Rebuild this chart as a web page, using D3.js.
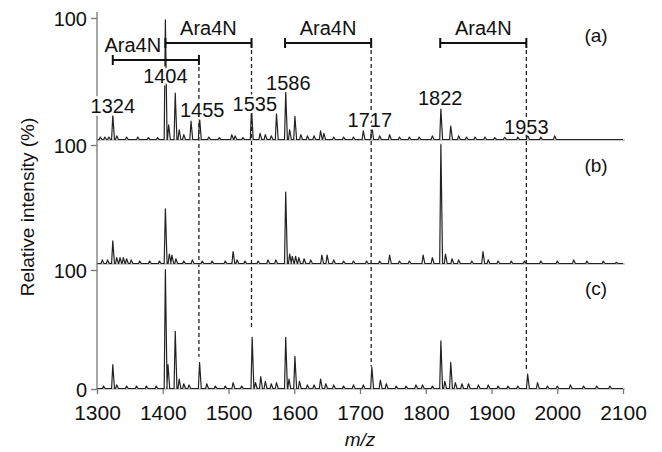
<!DOCTYPE html>
<html>
<head>
<meta charset="utf-8">
<script src="https://cdn.jsdelivr.net/npm/d3@7"></script>
<style>
  body { margin: 0; background: #fff; }
  svg text { font-family: "Liberation Sans", Arial, sans-serif; fill: #111; }
</style>
</head>
<body>
<div id="chart"></div>
<script>
// peak lists: [m/z, relative intensity %]
const peaksA = [
  [1305, 2], [1312, 2], [1318, 2], [1324, 20], [1330, 3], [1345, 2], [1362, 2], [1378, 1.5], [1392, 1.5],
  [1404, 98], [1409, 12], [1419, 38], [1425, 8], [1432, 4], [1443, 15], [1456, 18], [1470, 2], [1486, 1.5],
  [1505, 4], [1510, 3], [1522, 1.5], [1535, 25], [1548, 5], [1556, 4], [1565, 3], [1573, 21], [1587, 39],
  [1593, 8], [1601, 19], [1610, 4], [1620, 3], [1630, 3], [1640, 7], [1645, 5], [1660, 2], [1675, 2],
  [1690, 2], [1705, 7], [1718, 12], [1730, 3], [1745, 4], [1760, 2], [1775, 2], [1790, 2], [1810, 3],
  [1823, 25], [1838, 11], [1850, 3], [1862, 2], [1875, 2], [1890, 2], [1905, 1.5], [1920, 2], [1940, 2],
  [1955, 4], [1975, 2], [1996, 3]
];
const peaksB = [
  [1308, 3], [1316, 3], [1324, 19], [1330, 5], [1335, 5], [1340, 5], [1345, 4], [1352, 3], [1365, 2],
  [1380, 2], [1395, 2], [1404, 46], [1410, 8], [1414, 7], [1420, 4], [1432, 2], [1445, 3], [1460, 2],
  [1475, 2], [1495, 2], [1507, 10], [1513, 3], [1525, 2], [1545, 2], [1560, 3], [1572, 3], [1587, 60],
  [1593, 8], [1597, 6], [1602, 6], [1607, 5], [1615, 4], [1625, 3], [1642, 7], [1650, 7], [1660, 3],
  [1675, 2], [1690, 2], [1710, 2], [1730, 2], [1745, 7], [1760, 2], [1775, 2], [1796, 7], [1810, 5],
  [1823, 100], [1830, 8], [1840, 4], [1850, 3], [1870, 2], [1887, 10], [1895, 3], [1910, 2], [1930, 2],
  [1950, 2], [1975, 2], [2000, 2], [2025, 3], [2045, 2], [2070, 2], [2090, 1]
];
const peaksC = [
  [1310, 2], [1324, 20], [1330, 3], [1345, 2], [1360, 2], [1375, 2], [1390, 2], [1404, 100], [1408, 20],
  [1419, 48], [1425, 8], [1432, 4], [1440, 3], [1456, 22], [1467, 4], [1480, 2], [1495, 2], [1507, 5],
  [1520, 2], [1536, 43], [1541, 5], [1549, 10], [1556, 6], [1565, 4], [1573, 5], [1587, 43], [1592, 8],
  [1601, 27], [1608, 6], [1620, 3], [1630, 3], [1640, 8], [1648, 4], [1660, 3], [1675, 2], [1690, 3],
  [1705, 3], [1718, 18], [1731, 7], [1740, 4], [1755, 2], [1770, 2], [1785, 3], [1795, 3], [1810, 2],
  [1823, 40], [1829, 6], [1838, 22], [1845, 5], [1855, 4], [1865, 4], [1880, 3], [1895, 3], [1910, 2],
  [1925, 2], [1940, 2], [1955, 12], [1970, 5], [1985, 2], [2000, 2], [2020, 3], [2040, 2], [2060, 2], [2080, 2]
];
const panelNames = ['(a)', '(b)', '(c)'];
const xTicks = [1300, 1400, 1500, 1600, 1700, 1800, 1900, 2000, 2100];
// labelled peaks in (a): [m/z label, label x m/z, label height %]
const peakLabels = [
  [1324, 1324, 22], [1404, 1404, 47], [1455, 1460, 19], [1535, 1540, 24],
  [1586, 1591, 41], [1717, 1715, 11], [1822, 1822, 29], [1953, 1953, 5]
];
// Ara4N losses: [from, to, row]
const ara4n = [[1324, 1455, 1], [1404, 1535, 0], [1586, 1717, 0], [1822, 1953, 0]];
// height (% of panel c) where each dashed guide stops
const guideEnds = [[1455, 27], [1535, 51], [1717, 19], [1953, 16]];

const width = 662, height = 452;
const svg = d3.select('#chart').append('svg')
  .attr('width', width).attr('height', height);

const x = d3.scaleLinear().domain([1300, 2100]).range([97, 623]);
const panels = [
  { y: d3.scaleLinear().domain([0, 100]).range([140, 18]), peaks: peaksA, labelY: 42 },
  { y: d3.scaleLinear().domain([0, 100]).range([264, 145]), peaks: peaksB, labelY: 172 },
  { y: d3.scaleLinear().domain([0, 100]).range([389, 270]), peaks: peaksC, labelY: 295 },
];
const yA = panels[0].y, yC = panels[2].y;

// dashed guides
const bracketY = [43, 60];
svg.append('g').selectAll('line')
  .data(guideEnds)
  .join('line')
  .attr('x1', d => x(d[0])).attr('x2', d => x(d[0]))
  .attr('y1', d => bracketY[ara4n.find(a => a[1] === d[0])[2]])
  .attr('y2', d => yC(d[1]))
  .attr('stroke', '#222').attr('stroke-width', 1.3)
  .attr('stroke-dasharray', '4,3');

// panel baselines
svg.append('g').selectAll('line')
  .data(panels)
  .join('line')
  .attr('x1', x(1300)).attr('x2', 625)
  .attr('y1', d => d.y(0)).attr('y2', d => d.y(0))
  .attr('stroke', '#999').attr('stroke-width', 1);

// spectra: each peak drawn as a narrow spike on a flat baseline
const spectrum = pk => {
  const pts = [[1300, 0]];
  pk.forEach(([m, h]) => { pts.push([m - 1.8, 0], [m, h], [m + 2.6, 0]); });
  pts.push([2100, 0]);
  return pts;
};
panels.forEach(p => {
  svg.append('path')
    .datum(spectrum(p.peaks))
    .attr('fill', 'none')
    .attr('stroke', '#222')
    .attr('stroke-width', 1.2)
    .attr('stroke-linejoin', 'round')
    .attr('d', d3.line().x(d => x(d[0])).y(d => p.y(d[1]) - 0.5));
});

// axes
const axisColor = '#777';
svg.append('line')
  .attr('x1', x(1300)).attr('x2', x(1300)).attr('y1', 12).attr('y2', yC(0))
  .attr('stroke', axisColor).attr('stroke-width', 1.3);

panels.forEach((p, i) => {
  const g = svg.append('g')
    .attr('transform', `translate(${x(1300)},0)`)
    .call(d3.axisLeft(p.y).tickValues(i === 2 ? [0, 100] : [100]).tickSize(6).tickPadding(4));
  g.select('.domain').remove();
  g.selectAll('.tick line').attr('stroke', axisColor).attr('stroke-width', 1.3);
  g.selectAll('.tick text').attr('font-size', 20).attr('fill', '#111')
    .attr('font-family', '"Liberation Sans", Arial, sans-serif').attr('dy', '0.36em');
});

const gx = svg.append('g')
  .attr('transform', `translate(0,${yC(0)})`)
  .call(d3.axisBottom(x).tickValues(xTicks).tickFormat(d3.format('d')).tickSize(5).tickPadding(11));
gx.select('.domain').remove();
gx.selectAll('.tick line').attr('stroke', axisColor).attr('stroke-width', 1.3);
gx.selectAll('.tick text').attr('font-size', 21).attr('fill', '#111')
  .attr('font-family', '"Liberation Sans", Arial, sans-serif');

// axis titles
svg.append('text')
  .attr('transform', 'translate(34,207) rotate(-90)')
  .attr('text-anchor', 'middle')
  .attr('font-size', 19)
  .text('Relative intensity (%)');
svg.append('text')
  .attr('x', 360).attr('y', 446)
  .attr('text-anchor', 'middle')
  .attr('font-size', 19)
  .attr('font-style', 'italic')
  .text('m/z');

// panel letters
svg.append('g').selectAll('text')
  .data(panels)
  .join('text')
  .attr('x', 596).attr('y', d => d.labelY)
  .attr('text-anchor', 'middle')
  .attr('font-size', 19)
  .text((d, i) => panelNames[i]);

// peak labels in (a)
svg.append('g').selectAll('text')
  .data(peakLabels)
  .join('text')
  .attr('x', d => x(d[1]))
  .attr('y', d => yA(d[2]))
  .attr('text-anchor', 'middle')
  .attr('font-size', 20)
  .attr('stroke', '#fff').attr('stroke-width', 5)
  .attr('paint-order', 'stroke')
  .text(d => d[0]);

// Ara4N brackets
const br = svg.append('g').selectAll('g')
  .data(ara4n)
  .join('g');
br.append('line')
  .attr('x1', d => x(d[0])).attr('x2', d => x(d[1]))
  .attr('y1', d => bracketY[d[2]]).attr('y2', d => bracketY[d[2]])
  .attr('stroke', '#111').attr('stroke-width', 2);
br.selectAll('.cap')
  .data(d => [[d[0], d[2]], [d[1], d[2]]])
  .join('line')
  .attr('class', 'cap')
  .attr('x1', d => x(d[0])).attr('x2', d => x(d[0]))
  .attr('y1', d => bracketY[d[1]] - 5).attr('y2', d => bracketY[d[1]] + 5)
  .attr('stroke', '#111').attr('stroke-width', 2);
br.append('text')
  .attr('x', d => d[2] === 1 ? x(d[0]) + 20 : (x(d[0]) + x(d[1])) / 2)
  .attr('y', d => bracketY[d[2]] - 8)
  .attr('text-anchor', 'middle')
  .attr('font-size', 20)
  .attr('stroke', '#fff').attr('stroke-width', 4)
  .attr('paint-order', 'stroke')
  .text('Ara4N');
</script>
</body>
</html>
